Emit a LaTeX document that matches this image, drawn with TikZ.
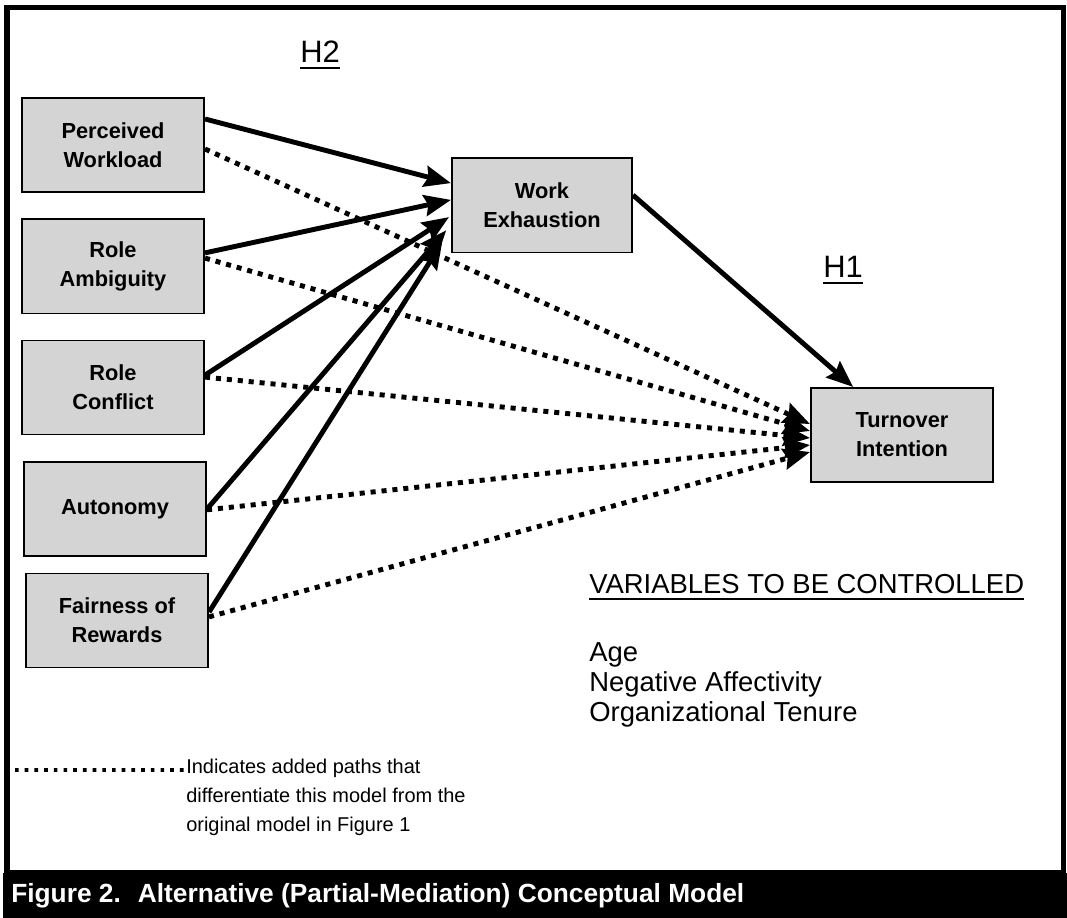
\documentclass[tikz,border=0pt]{standalone}
\usepackage{fontspec}
\setmainfont{Liberation Sans}
\usepackage{tikz}
\usetikzlibrary{arrows.meta, positioning}

% underline with a heavier rule than \underline
\newcommand{\ulined}[1]{\setbox0\hbox{#1}\rlap{\rule[-4.6pt]{\wd0}{1.6pt}}\box0}

\begin{document}
\begin{tikzpicture}[x=0.025cm,y=-0.025cm,
  >={Stealth[length=19pt,width=15pt,inset=2.5pt]},
  var node/.style={rectangle,draw,line width=1.4pt,fill=black!17,
    minimum width=4.55cm,minimum height=2.35cm,align=center,
    font=\fontsize{15.5}{20.5}\selectfont\bfseries},
  hyp/.style={anchor=base west,inner sep=0pt,font=\fontsize{22}{26}\selectfont},
  ctrl/.style={anchor=base west,inner sep=0pt,font=\fontsize{19.5}{23}\selectfont},
  legtext/.style={anchor=base west,inner sep=0pt,font=\fontsize{14.2}{18}\selectfont},
  main path/.style={->,line width=3.5pt},
  added path/.style={->,line width=3.5pt,dash pattern=on 3.6pt off 4.2pt}]
  \useasboundingbox (0,0) rectangle (1067,918);

  % frame and caption bar
  \draw[line width=4pt] (7,7.5) rectangle (1063.5,873);
  \fill[black] (3,873) rectangle (1067,918);
  \node[anchor=west,inner sep=0pt,text=white,font=\fontsize{18.7}{22}\selectfont\bfseries]
    (caption) at (11,896) {Figure 2.~ Alternative (Partial-Mediation) Conceptual Model};

  \node[var node] (PW) at (113,145) {Perceived\\Workload};
  \node[var node] (RA) at (113,266.5) {Role\\Ambiguity};
  \node[var node] (RC) at (113,387.5) {Role\\Conflict};
  \node[var node] (AU) at (115,509) {Autonomy};
  \node[var node] (FR) at (117,620.5) {Fairness of\\Rewards};
  \node[var node,minimum width=4.5cm] (WE) at (542,205.5) {Work\\Exhaustion};
  \node[var node] (TI) at (902,435) {Turnover\\Intention};

  \node[hyp] (H2) at (300,63) {\ulined{H2}};
  \node[hyp] (H1) at (823,278) {\ulined{H1}};

  \node[ctrl] (VC) at (589,594) {\ulined{VARIABLES TO BE CONTROLLED}};
  \node[ctrl] (AGE) at (589,661) {Age};
  \node[ctrl] (NA) at (589,691) {Negative Affectivity};
  \node[ctrl] (OT) at (589,721) {Organizational Tenure};

  % legend
  \coordinate (L0) at (15,770);
  \node[legtext] (L1) at (186,773) {Indicates added paths that};
  \node[legtext] (L2) at (186,802) {differentiate this model from the};
  \node[legtext] (L3) at (186,831) {original model in Figure 1};
  \draw[line width=2.6pt,dash pattern=on 2.6pt off 4.3pt] (L0) -- ([yshift=0.075cm]L1.base west);

  \path[main path]
     ([yshift=0.65cm]PW.east) edge ([yshift=0.56cm]WE.west)
     ([yshift=0.34cm]RA.east) edge ([yshift=0.14cm]WE.west)
     ([yshift=0.31cm]RC.east) edge ([xshift=-0.05cm,yshift=-0.29cm]WE.west)
     (AU.east) edge ([xshift=-0.12cm,yshift=-0.62cm]WE.west)
     ([yshift=0.21cm]FR.east) edge ([xshift=-0.22cm,yshift=-0.92cm]WE.west)
     ([yshift=0.26cm]WE.east) edge ([xshift=-1.22cm]TI.north);

  \path[added path]
     ([yshift=-0.1cm]PW.east) edge ([yshift=0.275cm]TI.west)
     ([yshift=0.21cm]RA.east) edge ([yshift=0.1cm]TI.west)
     ([yshift=0.26cm]RC.east) edge ([yshift=-0.075cm]TI.west)
     ([yshift=-0.02cm]AU.east) edge ([yshift=-0.25cm]TI.west)
     ([yshift=0.09cm]FR.east) edge ([yshift=-0.425cm]TI.west);
\end{tikzpicture}
\end{document}
